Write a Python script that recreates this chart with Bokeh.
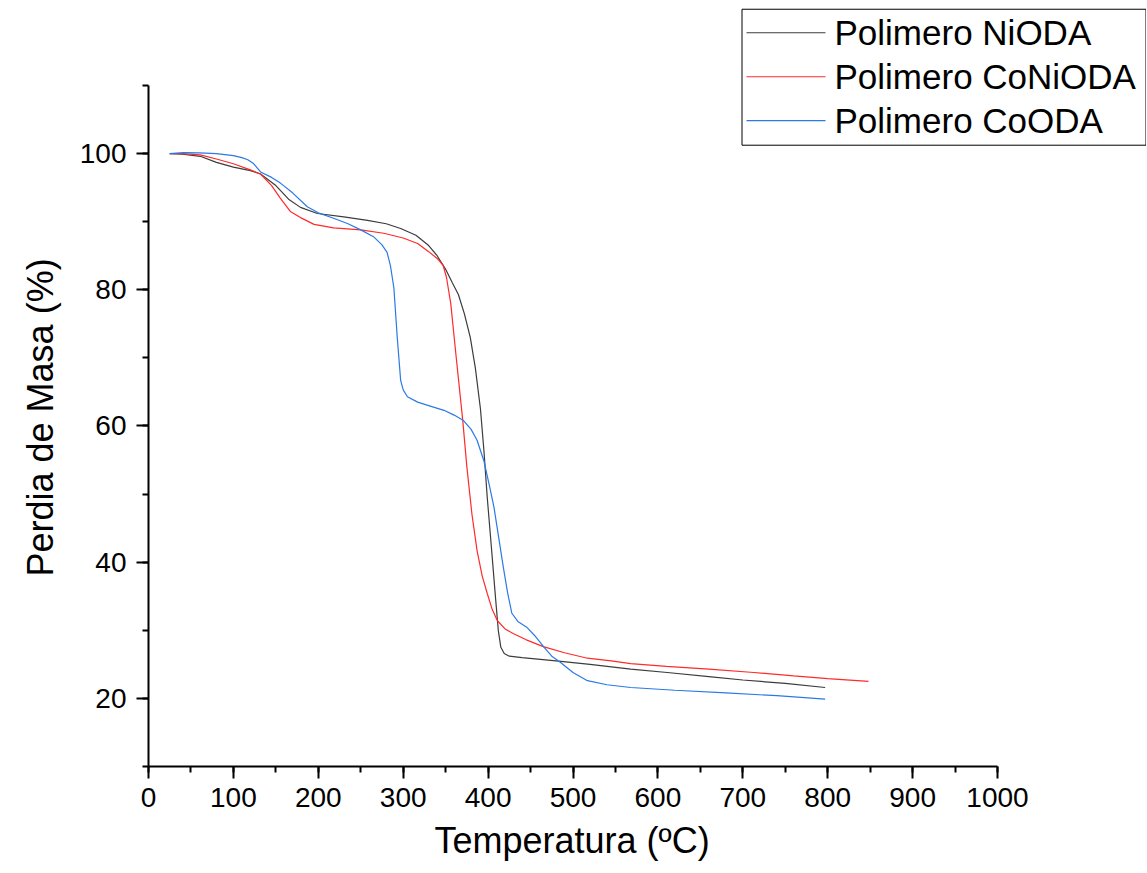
from bokeh.plotting import figure
from bokeh.models import SingleIntervalTicker, Range1d, Title
from bokeh.core.properties import value
from bokeh.embed import file_html
from bokeh.resources import INLINE

# ---- data ----
niODA_T = [25, 40, 61, 80, 100, 120, 132, 150, 165, 179, 199, 230, 258, 280, 297,
           315, 330, 340, 350, 358, 365, 372, 379, 385, 391, 395, 399, 404, 409, 412,
           415, 419, 425, 440, 480, 520, 568, 611, 660, 700, 750, 797]
niODA_m = [100.0, 99.9, 99.6, 98.7, 98.0, 97.5, 97.0, 95.3, 93.3, 92.1, 91.2, 90.7,
           90.2, 89.7, 89.0, 88.0, 86.5, 85.0, 83.0, 81.0, 79.3, 76.5, 73.0, 68.5,
           62.5, 56.5, 49.5, 42.0, 34.4, 30.0, 27.5, 26.6, 26.2, 26.0, 25.5, 25.0,
           24.3, 23.8, 23.2, 22.7, 22.2, 21.6]

coniODA_T = [25, 40, 61, 80, 100, 120, 132, 145, 155, 167, 179, 195, 218, 250, 277,
             300, 317, 330, 340, 347, 351, 356, 362, 370, 375, 381, 387, 393, 399, 405,
             411, 420, 430, 445, 465, 490, 517, 545, 568, 610, 660, 713, 760, 800, 848]
coniODA_m = [100.0, 100.0, 99.8, 99.2, 98.5, 97.6, 97.0, 95.3, 93.5, 91.5, 90.6, 89.6,
             89.1, 88.8, 88.3, 87.6, 86.8, 85.6, 84.6, 83.6, 81.8, 78.0, 70.6, 61.0,
             54.0, 47.0, 41.7, 38.0, 35.4, 33.0, 31.4, 30.2, 29.5, 28.6, 27.6, 26.7,
             25.9, 25.5, 25.1, 24.7, 24.3, 23.8, 23.3, 22.9, 22.5]

coODA_T = [25, 41, 60, 80, 100, 110, 117, 124, 128, 132, 145, 155, 170, 187, 200,
           218, 235, 250, 265, 275, 281, 285, 289, 293, 297, 300, 305, 317, 330, 348,
           360, 371, 380, 387, 395, 402, 407, 412, 418, 423, 428, 435, 446, 455, 466,
           475, 485, 500, 517, 540, 568, 620, 680, 740, 797]
coODA_m = [100.0, 100.15, 100.1, 100.0, 99.7, 99.4, 99.1, 98.5, 97.9, 97.3, 96.5,
           95.7, 94.2, 92.2, 91.3, 90.5, 89.7, 88.8, 87.8, 86.6, 85.5, 83.5, 80.3,
           73.0, 66.7, 65.3, 64.3, 63.5, 63.0, 62.3, 61.6, 60.8, 59.5, 57.9, 54.9,
           51.0, 48.0, 44.0, 39.2, 35.5, 32.5, 31.3, 30.4, 29.2, 27.5, 26.2, 25.3,
           23.8, 22.6, 22.0, 21.6, 21.2, 20.8, 20.4, 19.9]

series_names = ["Polimero NiODA", "Polimero CoNiODA", "Polimero CoODA"]
series_colors = ["#3c3c3c", "#ff2a2a", "#2a7ae6"]
x_title = "Temperatura (ºC)"
y_title = "Perdia de Masa (%)"

FONT = "Liberation Sans"

# ---- layout (pixels of the picture) ----
W, H = 1146, 873
LEFT, TOP, BOTTOM_PX = 148, 5, 766
PX_PER_X = 849 / 1000.0
PX_PER_Y = 545 / 80.0
x_end = (W - LEFT) / PX_PER_X
y_top = 110 + (85 - TOP) / PX_PER_Y


def px_x(px):
    return (px - LEFT) / PX_PER_X


def px_y(py):
    return 10 + (BOTTOM_PX - py) / PX_PER_Y


p = figure(width=W, height=H, output_backend="svg", toolbar_location=None,
           x_range=Range1d(0, x_end), y_range=Range1d(10, y_top),
           min_border_left=LEFT, min_border_right=0, min_border_top=TOP,
           min_border_bottom=H - BOTTOM_PX)
p.outline_line_color = None
p.xgrid.visible = False
p.ygrid.visible = False

p.xaxis.ticker = SingleIntervalTicker(interval=100, num_minor_ticks=2)
p.yaxis.ticker = SingleIntervalTicker(interval=20, num_minor_ticks=2)
p.xaxis.bounds = (0, 1000)
p.yaxis.bounds = (10, 110)

for ax in (p.xaxis[0], p.yaxis[0]):
    ax.axis_line_width = 2
    ax.axis_line_color = "black"
    ax.major_tick_line_width = 2
    ax.minor_tick_line_width = 2
    ax.major_tick_out = 12
    ax.major_tick_in = 0
    ax.minor_tick_out = 6
    ax.minor_tick_in = 0
    ax.major_label_text_font = FONT
    ax.major_label_text_font_size = "28px"
    ax.major_label_text_color = "black"

p.xaxis.major_label_standoff = 9
p.yaxis.major_label_standoff = 10

# axis titles as side titles, placed along the axis extent (0-1000 / 10-110)
xt = Title(text=x_title, align="left", offset=286, vertical_align="top",
           standoff=20, text_font=FONT, text_font_size="36px",
           text_font_style="normal", text_color="black")
p.add_layout(xt, "below")
yt = Title(text=y_title, align="left", offset=190, vertical_align="bottom",
           standoff=32, text_font=FONT, text_font_size="36px",
           text_font_style="normal", text_color="black")
p.add_layout(yt, "left")

# ---- data lines ----
data = [(niODA_T, niODA_m), (coniODA_T, coniODA_m), (coODA_T, coODA_m)]
for (xs, ys), col in zip(data, series_colors):
    p.line(xs, ys, line_color=col, line_width=1.2)

# ---- legend box (top right, drawn with glyphs) ----
BOX_L, BOX_R, BOX_T, BOX_B = 741.5, 1145.5, 8.5, 144.5
p.quad(left=[px_x(BOX_L)], right=[px_x(BOX_R)], top=[px_y(BOX_T)],
       bottom=[px_y(BOX_B)], fill_color="white", line_color="black",
       line_width=1)
ROW_Y = [32, 76, 120]
for name, col, ry in zip(series_names, series_colors, ROW_Y):
    p.segment(x0=[px_x(746)], x1=[px_x(825)], y0=[px_y(ry)], y1=[px_y(ry)],
              line_color=col, line_width=1.2)
    p.text(x=[px_x(834)], y=[px_y(ry)], text=[name], text_font=value(FONT),
           text_font_size="35px", text_color="black", text_baseline="middle",
           text_align="left")

open("out.html", "w").write(file_html(p, INLINE))
